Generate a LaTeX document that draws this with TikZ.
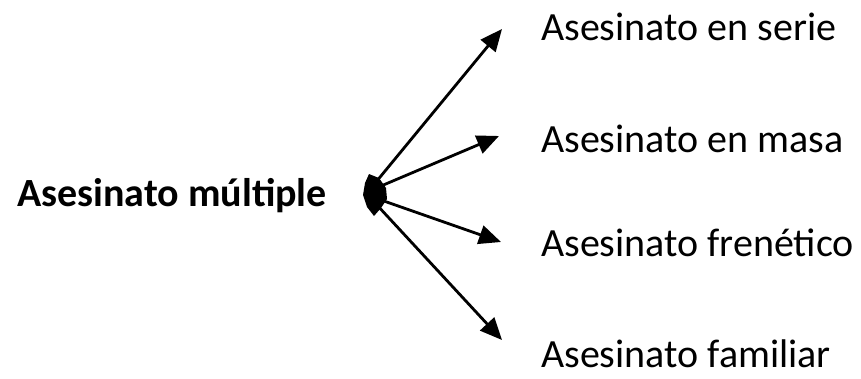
\documentclass[tikz,border=0pt]{standalone}
\usepackage{fontspec}
\setmainfont{Carlito}
\usetikzlibrary{arrows.meta}
\begin{document}
\begin{tikzpicture}[x=1pt,y=-1pt,
  lbl/.style={anchor=base west,inner sep=0pt,font=\fontsize{40}{44}\selectfont},
  src/.style={anchor=base west,inner sep=0pt,font=\fontsize{40}{44}\selectfont\bfseries},
  arr/.style={line width=2.8pt,-{Triangle[length=22pt,width=19pt]}}]
\useasboundingbox (0,0) rectangle (861,378);
% source label and branch targets
\node[src] (m) at (17,206) {Asesinato múltiple};
\node[lbl] (t1) at (541,40) {Asesinato en serie};
\node[lbl] (t2) at (541,152) {Asesinato en masa};
\node[lbl] (t3) at (541,256) {Asesinato frenético};
\node[lbl] (t4) at (541,367) {Asesinato familiar};
% hub where the arrows meet
\coordinate (o1) at (376,182);
\coordinate (o2) at (381,186);
\coordinate (o3) at (381,200);
\coordinate (o4) at (376,204);
\coordinate (e1) at (502,29);
\coordinate (e2) at (499,136);
\coordinate (e3) at (501,242);
\coordinate (e4) at (502,340);
\fill (369,174) -- (379,178) -- (386,188) -- (387,199) -- (381,208) -- (374,216)
  -- (367,207) -- (363,195) -- (365,183) -- cycle;
\draw[arr] (o1) -- (e1);
\draw[arr] (o2) -- (e2);
\draw[arr] (o3) -- (e3);
\draw[arr] (o4) -- (e4);
\end{tikzpicture}
\end{document}
